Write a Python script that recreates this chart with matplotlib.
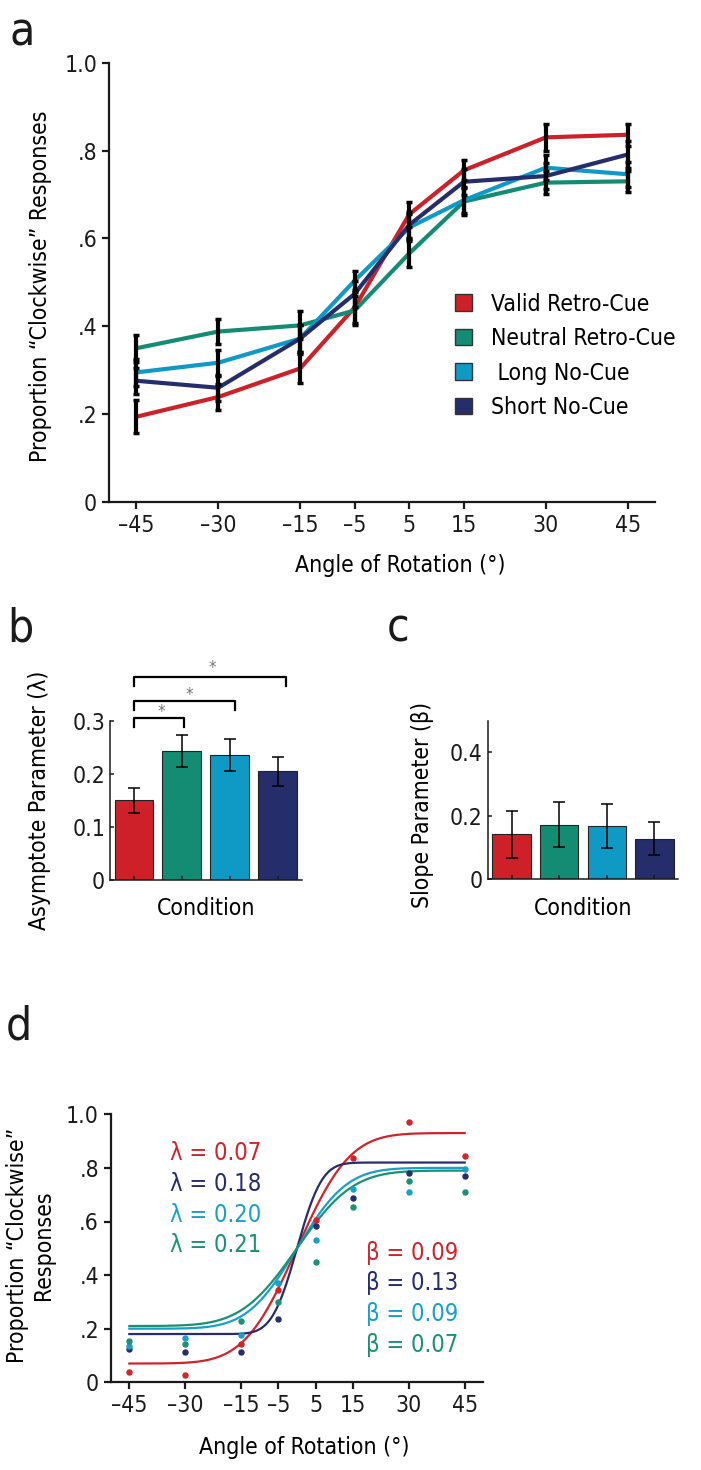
import math
import numpy as np
import matplotlib
matplotlib.use('Agg')
import matplotlib.pyplot as plt
from matplotlib.patches import Patch
from matplotlib import font_manager

# pick a narrow face if one is installed
entries = [(f.name, str(f.stretch)) for f in font_manager.fontManager.ttflist]
if any(n == 'Liberation Sans Narrow' for n, s in entries):
    plt.rcParams['font.family'] = ['Liberation Sans Narrow', 'DejaVu Sans']
    font_note = 'narrow'
elif any(n == 'DejaVu Sans' and 'condensed' in s for n, s in entries):
    plt.rcParams['font.family'] = ['DejaVu Sans']
    plt.rcParams['font.stretch'] = 'condensed'
    font_note = 'dvcond'
else:
    plt.rcParams['font.family'] = ['Liberation Sans', 'DejaVu Sans']
    font_note = 'lib'

# ---- data ----
angles = [-45, -30, -15, -5, 5, 15, 30, 45]
angle_labels = ['\u201345', '\u201330', '\u201315', '\u20135', '5', '15', '30', '45']
conditions = ['Valid Retro-Cue', 'Neutral Retro-Cue', ' Long No-Cue', 'Short No-Cue']
colors = ['#CD2029', '#138C73', '#0F9AC6', '#252D6A']

# panel a: proportion "clockwise" responses
valid = [0.194, 0.239, 0.304, 0.443, 0.655, 0.755, 0.830, 0.836]
neutral = [0.350, 0.388, 0.402, 0.436, 0.566, 0.684, 0.727, 0.730]
long_nc = [0.295, 0.317, 0.372, 0.504, 0.625, 0.687, 0.761, 0.746]
short_nc = [0.276, 0.260, 0.372, 0.474, 0.631, 0.729, 0.742, 0.791]
valid_err = [0.038, 0.030, 0.032, 0.035, 0.028, 0.023, 0.031, 0.025]
neutral_err = [0.031, 0.029, 0.032, 0.034, 0.032, 0.031, 0.027, 0.024]
long_err = [0.030, 0.030, 0.030, 0.021, 0.030, 0.030, 0.028, 0.028]
short_err = [0.030, 0.030, 0.030, 0.030, 0.030, 0.030, 0.030, 0.030]

# panel b: asymptote parameter
asym = [0.150, 0.2425, 0.236, 0.2045]
asym_err = [0.024, 0.030, 0.030, 0.028]

# panel c: slope parameter
slope = [0.142, 0.172, 0.167, 0.128]
slope_err = [0.074, 0.071, 0.069, 0.052]

# panel d: single observer, order red, navy, cyan, teal
d_valid = [0.038, 0.028, 0.144, 0.345, 0.606, 0.836, 0.972, 0.846]
d_short = [0.123, 0.113, 0.113, 0.236, 0.583, 0.686, 0.782, 0.771]
d_long = [0.137, 0.166, 0.175, 0.369, 0.531, 0.721, 0.711, 0.795]
d_neutral = [0.155, 0.144, 0.229, 0.301, 0.448, 0.655, 0.751, 0.711]
d_lambda = [0.07, 0.18, 0.20, 0.21]
d_beta = [0.09, 0.13, 0.09, 0.07]
d_curve_k = [0.09, 0.19, 0.095, 0.085]   # steepness of drawn fit curves
d_colors = ['#D0242B', '#262C6C', '#18A0C8', '#1A9176']

W, H = 701, 1470
fig = plt.figure(figsize=(W / 100, H / 100), dpi=100)

FS = 16.5 if font_note != 'lib' else 15


def px_axes(l, t, r, b):
    return fig.add_axes([l / W, 1 - b / H, (r - l) / W, (b - t) / H])


def style(ax, lw, direction, length):
    for s in ['top', 'right']:
        ax.spines[s].set_visible(False)
    for s in ['left', 'bottom']:
        ax.spines[s].set_linewidth(lw)
        ax.spines[s].set_color('#1a1a1a')
    ax.tick_params(direction=direction, length=length, width=lw, labelsize=FS, colors='#1a1a1a')


# ---- panel a ----
ax = px_axes(109, 62.7, 655, 502)
style(ax, 1.6, 'out', 5)
series = [valid, neutral, long_nc, short_nc]
errs = [valid_err, neutral_err, long_err, short_err]
for vals, c in zip(series, colors):
    ax.plot(angles, vals, color=c, lw=3.0, zorder=2)
for vals, e in zip(series, errs):
    ax.errorbar(angles, vals, yerr=e, fmt='none', ecolor='black', elinewidth=3,
                capsize=2.5, capthick=2.5, zorder=3)
ax.set_xlim(-50, 50)
ax.set_ylim(0, 1.0)
ax.set_xticks(angles)
ax.set_xticklabels(angle_labels)
ax.set_yticks([0, 0.2, 0.4, 0.6, 0.8, 1.0])
ax.set_yticklabels(['0', '.2', '.4', '.6', '.8', '1.0'])
ax.set_xlabel('Angle of Rotation (\u00b0)', fontsize=FS)
ax.xaxis.set_label_coords(0.533, -0.118)
ax.set_ylabel('Proportion \u201cClockwise\u201d Responses', fontsize=FS)
ax.yaxis.set_label_coords(-0.105, 0.49)
handles = [Patch(facecolor=c, edgecolor='#333333', lw=1) for c in colors]
fig.legend(handles, conditions, loc='upper left', bbox_to_anchor=(434 / W, 1 - 272 / H),
           frameon=False, fontsize=FS, handlelength=0.75, handleheight=0.75,
           handletextpad=0.85, labelspacing=0.5)

# ---- panel b ----
x = [1, 2, 3, 4]
ax = px_axes(110, 720.7, 301.7, 880)
style(ax, 1.1, 'in', 3)
ax.bar(x, asym, width=0.81, color=colors, edgecolor='#222222', lw=0.8)
ax.errorbar(x, asym, yerr=asym_err, fmt='none', ecolor='black', elinewidth=1.1,
            capsize=4, capthick=1.1)
ax.set_xlim(0.5, 4.5)
ax.set_ylim(0, 0.3)
ax.set_yticks([0, 0.1, 0.2, 0.3])
ax.set_yticklabels(['0', '0.1', '0.2', '0.3'])
ax.set_xticks(x)
ax.set_xticklabels([])
ax.set_xlabel('Condition', fontsize=FS, labelpad=9)
ax.set_ylabel('Asymptote Parameter (\u03bb)', fontsize=FS)
ax.yaxis.set_label_coords(-0.31, 0.5)
brackets = [(2.05, 0.3045, 1.58, 0.316), (3.10, 0.3375, 2.15, 0.349), (4.18, 0.3825, 2.64, 0.40)]
for xr, yb, xs_, ys_ in brackets:
    ax.plot([1, 1, xr, xr], [yb - 0.017, yb, yb, yb - 0.017], color='black', lw=1.6,
            clip_on=False)
    ax.text(xs_, ys_, '*', color='#777777', fontsize=12, ha='center', va='center',
            family='DejaVu Sans')

# ---- panel c ----
ax = px_axes(487.7, 720.7, 678.3, 879.3)
style(ax, 1.1, 'in', 3)
ax.bar(x, slope, width=0.81, color=colors, edgecolor='#222222', lw=0.8)
ax.errorbar(x, slope, yerr=slope_err, fmt='none', ecolor='black', elinewidth=1.1,
            capsize=4, capthick=1.1)
ax.set_xlim(0.5, 4.5)
ax.set_ylim(0, 0.5)
ax.set_yticks([0, 0.2, 0.4])
ax.set_yticklabels(['0', '0.2', '0.4'])
ax.set_xticks(x)
ax.set_xticklabels([])
ax.set_xlabel('Condition', fontsize=FS, labelpad=9)
ax.set_ylabel('Slope Parameter (\u03b2)', fontsize=FS)
ax.yaxis.set_label_coords(-0.28, 0.47)

# ---- panel d ----
ax = px_axes(110.7, 1114.3, 483.3, 1382.3)
style(ax, 1.6, 'out', 5)
xs = np.linspace(-45, 45, 400)
d_points = [d_valid, d_short, d_long, d_neutral]
for lam, k, c in zip(d_lambda, d_curve_k, d_colors):
    ys = [lam + (1 - 2 * lam) * 0.5 * (1 + math.erf(k * v / math.sqrt(2))) for v in xs]
    ax.plot(xs, ys, color=c, lw=1.6, zorder=2)
for pts, c in zip(d_points, d_colors):
    ax.plot(angles, pts, 'o', color=c, ms=3.6, zorder=3)
ax.set_xlim(-50, 50)
ax.set_ylim(0, 1.0)
ax.set_xticks(angles)
ax.set_xticklabels(angle_labels)
ax.set_yticks([0, 0.2, 0.4, 0.6, 0.8, 1.0])
ax.set_yticklabels(['0', '.2', '.4', '.6', '.8', '1.0'])
ax.set_xlabel('Angle of Rotation (\u00b0)', fontsize=FS)
ax.xaxis.set_label_coords(0.52, -0.2)
ax.set_ylabel('Proportion \u201cClockwise\u201d\nResponses', fontsize=FS, linespacing=1.15)
ax.yaxis.set_label_coords(-0.15, 0.51)
lam_y = [0.854, 0.740, 0.625, 0.511]
beta_y = [0.484, 0.369, 0.255, 0.140]
for lam, b, c, ly, by in zip(d_lambda, d_beta, d_colors, lam_y, beta_y):
    ax.text(-34, ly, '\u03bb = %.2f' % lam, color=c, fontsize=FS + 0.5, va='center')
    ax.text(18.5, by, '\u03b2 = %.2f' % b, color=c, fontsize=FS + 0.5, va='center')

# panel letters
for letter, lx, ly in [('a', 10, 45), ('b', 7, 641), ('c', 387, 641), ('d', 6, 1040)]:
    fig.text(lx / W, 1 - ly / H, letter, fontsize=33, va='baseline', ha='left', color='#1a1a1a')

fig.savefig('out.png', dpi=100)
plt.close(fig)
